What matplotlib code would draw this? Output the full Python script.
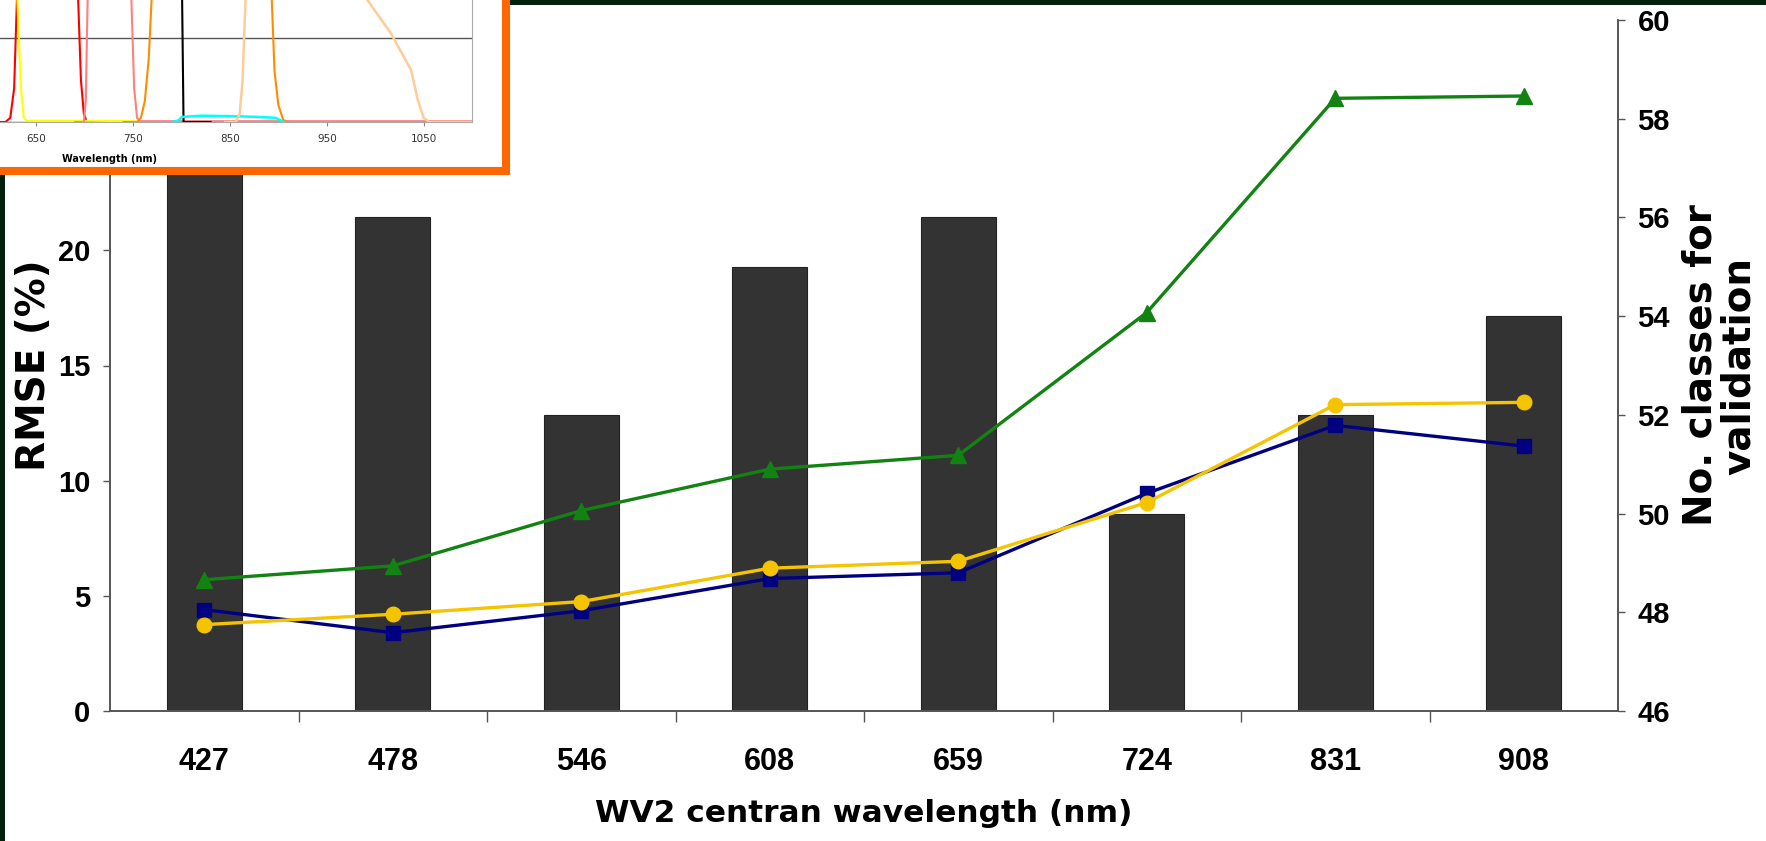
import numpy as np
import matplotlib
matplotlib.use("Agg")
import matplotlib.pyplot as plt
from matplotlib.patches import Rectangle

# main chart data
bands = ["427", "478", "546", "608", "659", "724", "831", "908"]
n_classes = [58, 56, 52, 55, 56, 50, 52, 54]
rmse_green = [5.7, 6.3, 8.7, 10.5, 11.1, 17.3, 26.6, 26.7]
rmse_blue = [4.4, 3.4, 4.35, 5.75, 6.0, 9.45, 12.4, 11.5]
rmse_yellow = [3.75, 4.2, 4.75, 6.2, 6.5, 9.05, 13.3, 13.4]

# inset: WV2 relative spectral response (visible part only)
red_wl = [600, 618, 623, 627, 630, 634, 640, 685, 690, 693, 696, 699, 702, 720]
red_rsp = [0, 0, 0.01, 0.08, 0.3, 0.8, 0.98, 0.98, 0.7, 0.3, 0.1, 0.02, 0, 0]
yel_wl = [580, 620, 624, 628, 631, 634, 637, 640, 700, 750, 760]
yel_rsp = [0.98, 0.98, 0.8, 0.45, 0.25, 0.08, 0.01, 0.003, 0.003, 0.002, 0]
edge_wl = [690, 699, 701, 703, 706, 712, 740, 745, 748, 751, 754, 757, 800, 1100]
edge_rsp = [0, 0, 0.05, 0.3, 0.8, 0.98, 0.98, 0.7, 0.3, 0.08, 0.01, 0.002, 0.002, 0.002]
nir1_wl = [740, 754, 758, 762, 766, 769, 773, 780, 885, 890, 893, 896, 900, 905, 910]
nir1_rsp = [0, 0, 0.01, 0.05, 0.15, 0.29, 0.6, 0.95, 0.95, 0.6, 0.3, 0.12, 0.04, 0.005, 0]
pan_wl = [450, 520, 700, 790, 799, 800.5, 802, 830]
pan_rsp = [0.5, 0.9, 1.0, 0.95, 0.8, 0.3, 0, 0]
cyan_wl = [790, 797, 800, 820, 850, 880, 897, 903, 906]
cyan_rsp = [0, 0.004, 0.012, 0.015, 0.014, 0.012, 0.01, 0.003, 0]
nir2_wl = [845, 856, 860, 863, 866, 870, 880, 930, 970, 992, 1016, 1037, 1044, 1050, 1056, 1100]
nir2_rsp = [0, 0, 0.02, 0.1, 0.29, 0.6, 0.9, 0.8, 0.5, 0.29, 0.212, 0.124, 0.052, 0.01, 0, 0]
inset_ticks = [650, 750, 850, 950, 1050]

W, H = 1766, 841
fig = plt.figure(figsize=(W / 100, H / 100), dpi=100, facecolor="#03210a")

def px(x0, y0, x1, y1):
    # pixel box (top-left origin) -> figure fraction rect
    return [x0 / W, 1 - y1 / H, (x1 - x0) / W, (y1 - y0) / H]

# white slide area inside the dark green frame
fig.add_artist(Rectangle((5 / W, 0), 1, 1 - 5 / H, transform=fig.transFigure,
                         facecolor="white", edgecolor="none", zorder=-5))

tick_font = dict(family="Liberation Sans", weight="bold")
label_font = dict(family="DejaVu Sans", weight="bold")

ax = fig.add_axes(px(110, 20, 1618, 711))
ax2 = ax.twinx()
ax.set_zorder(ax2.get_zorder() + 1)
ax.patch.set_visible(False)

x = np.arange(len(bands))
ax2.bar(x, n_classes, width=0.4, color="#333333", edgecolor="#222222", linewidth=0.8)
ax2.set_ylim(46, 60)
ax2.set_yticks(range(46, 61, 2))

ax.plot(x, rmse_green, color="#128212", lw=2.4, marker="^", ms=11.5, zorder=3)
ax.plot(x, rmse_blue, color="#000080", lw=2.4, marker="s", ms=9.5, zorder=4)
ax.plot(x, rmse_yellow, color="#F5C400", lw=2.4, marker="o", ms=10.5, zorder=5)

ax.set_xlim(-0.5, len(bands) - 0.5)
ax.set_ylim(0, 30)
ax.set_yticks(range(0, 31, 5))
ax.set_xticks(x)
ax.set_xticklabels(bands)
ax.set_xticks(x[:-1] + 0.5, minor=True)
ax.tick_params(axis="x", which="major", length=0, pad=26)
ax.tick_params(axis="x", which="minor", length=8, width=1, color="#555555", direction="out")
ax.tick_params(axis="y", length=5, width=1, color="#555555", direction="out", pad=9)
ax2.tick_params(axis="y", length=5, width=1, color="#555555", direction="out", pad=9)
for lab in ax.get_xticklabels():
    lab.set(fontsize=22, **tick_font)
for lab in ax.get_yticklabels() + ax2.get_yticklabels():
    lab.set(fontsize=21, **tick_font)

for a in (ax, ax2):
    a.spines["top"].set_visible(False)
    for s in ("left", "right", "bottom"):
        a.spines[s].set_color("#555555")
        a.spines[s].set_linewidth(1.2)

ax.set_xlabel("WV2 centran wavelength (nm)", fontsize=22.5, labelpad=16, **label_font)
ax.set_ylabel("RMSE (%)", fontsize=28, **label_font)
ax.yaxis.set_label_coords((34 - 110) / 1508, 0.5)
ax.yaxis.label.set_va("center")
ax2.set_ylabel("No. classes for\nvalidation", fontsize=28, linespacing=1.0,
               multialignment="center", **label_font)
ax2.yaxis.set_label_coords((1720 - 110) / 1508, 0.5)
ax2.yaxis.label.set_va("center")
ax2.yaxis.label.set_rotation(90)

# inset box with orange frame
fig.add_artist(Rectangle((-30 / W, 1 - 171 / H), 536 / W, 200 / H, transform=fig.transFigure,
                         facecolor="white", edgecolor="#FF6600", linewidth=5.8, zorder=8))
ins = fig.add_axes(px(-254, -298, 472, 122), zorder=10)
ins.plot(red_wl, red_rsp, color="#FF0000", lw=1.5)
ins.plot(yel_wl, yel_rsp, color="#FFFF00", lw=1.5)
ins.plot(edge_wl, edge_rsp, color="#FF8080", lw=1.5)
ins.plot(nir1_wl, nir1_rsp, color="#FF8C00", lw=1.5)
ins.plot(pan_wl, pan_rsp, color="#000000", lw=1.5)
ins.plot(cyan_wl, cyan_rsp, color="#00FFFF", lw=1.8)
ins.plot(nir2_wl, nir2_rsp, color="#FFCC99", lw=1.8)
ins.set_xlim(350, 1100)
ins.set_ylim(0, 1.0)
ins.set_xticks(inset_ticks)
ins.set_yticks(np.arange(0, 1.01, 0.2))
ins.set_yticklabels([])
ins.grid(axis="y", color="#555555", lw=1)
ins.set_axisbelow(True)
ins.tick_params(axis="x", length=3, color="#888888", labelsize=7.5, labelcolor="#333333", pad=6)
ins.tick_params(axis="y", length=0)
for s in ins.spines.values():
    s.set_color("#aaaaaa")
ins.set_xlabel("Wavelength (nm)", fontsize=7, fontweight="bold", labelpad=7)

fig.savefig("out.png", dpi=100, facecolor=fig.get_facecolor())
